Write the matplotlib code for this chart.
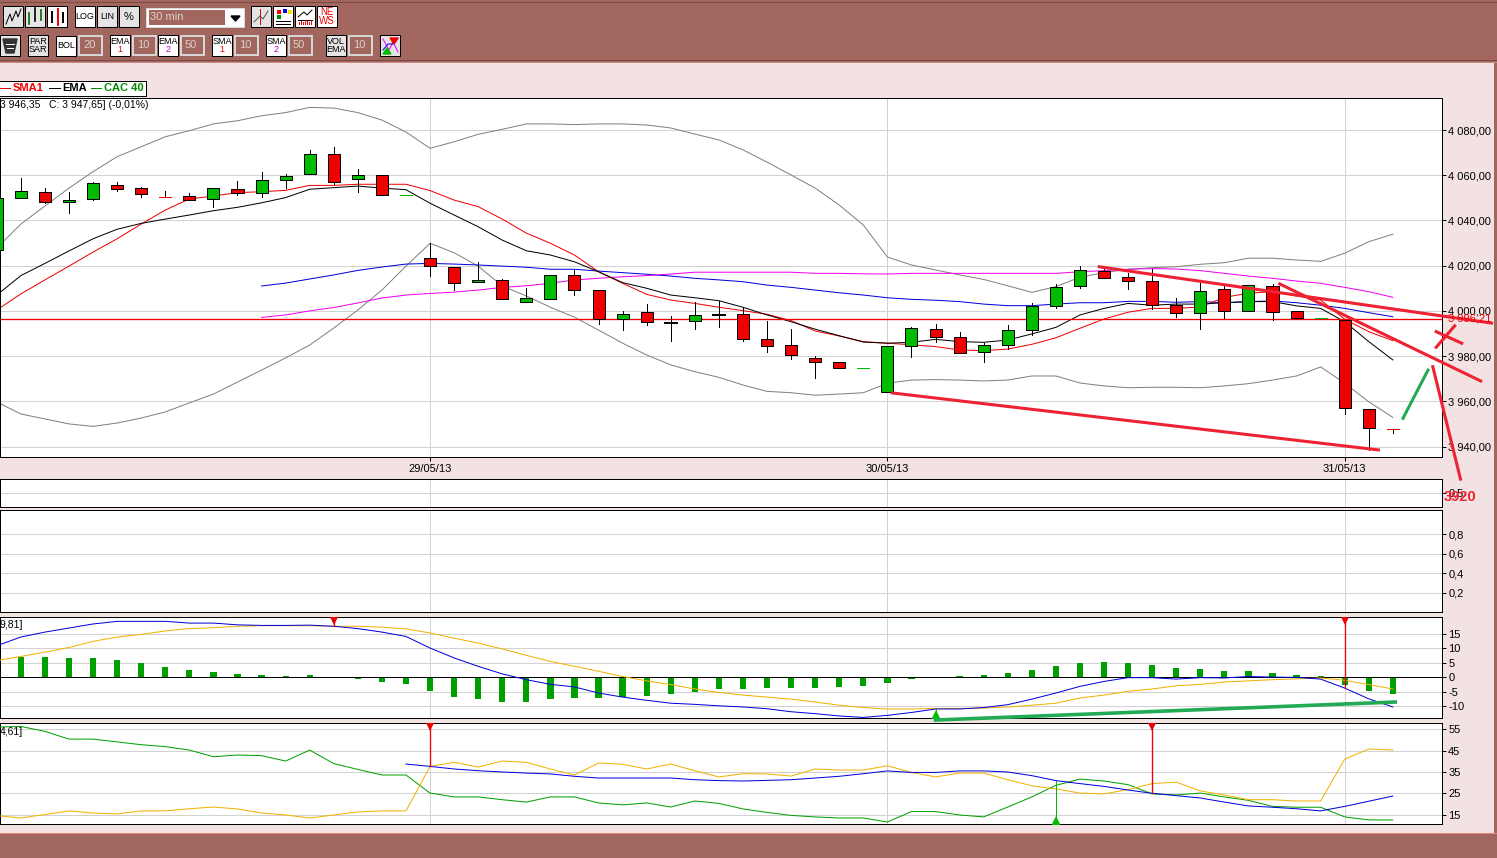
import numpy as np
import matplotlib
matplotlib.use("Agg")
import matplotlib.pyplot as plt
from matplotlib.patches import Rectangle

plt.rcParams["font.family"] = ["Liberation Sans", "DejaVu Sans"]

W, H = 1497, 858

# candles, 30 min, index 0 is cut by the left edge
body_top = [4050, 4053.2, 4052.7, 4048.9, 4056.4, 4055.5, 4054.2, 4050.5, 4050.7, 4054.2,
            4053.8, 4057.8, 4059.5, 4069.3, 4069.3, 4060, 4060, 4051.1, 4023.3, 4019.3,
            4013.7, 4013.5, 4005.6, 4015.7, 4015.7, 4009.1, 3998.5, 3999.4, 3994.6, 3998,
            3998.2, 3998.5, 3987.4, 3984.8, 3979, 3977.3, 3974.7, 3984.3, 3992.3, 3991.8,
            3988.3, 3984.8, 3991.4, 4002, 4010.4, 4018, 4017.5, 4014.9, 4013.1, 4002.5,
            4008.7, 4009.5, 4011.3, 4010.9, 3999.8, 3996.7, 3995.8, 3956.5, 3947.6]
body_bot = [4027, 4049.8, 4048, 4048, 4049.3, 4054, 4051.6, 4050.5, 4049.2, 4049.3,
            4052, 4052, 4057.8, 4060.4, 4057.1, 4058.2, 4051.1, 4051.1, 4019.7, 4012.2,
            4012.6, 4005.4, 4004.1, 4005.4, 4009.4, 3996.3, 3996.3, 3995, 3994.6, 3995.4,
            3998.2, 3987.4, 3984.6, 3980.4, 3977.5, 3974.6, 3974.7, 3964, 3984.3, 3988.3,
            3981.2, 3981.7, 3984.8, 3991.4, 4002, 4010.9, 4014.4, 4013.1, 4002.5, 3998.9,
            3998.9, 3999.8, 3999.8, 3999.4, 3996.7, 3996.7, 3956.9, 3948, 3947.6]
highs = [4050, 4058.8, 4054.3, 4052.4, 4056.9, 4056.9, 4054.8, 4052.9, 4052.1, 4054.2,
         4057.3, 4061.3, 4060.5, 4071.2, 4072.5, 4062.6, 4060, 4051.1, 4029.9, 4019.3,
         4021.5, 4014, 4010.3, 4015.7, 4018.1, 4009.1, 3999.9, 4003, 3997.7, 4003.8,
         4004.2, 4001.6, 3995.5, 3992, 3979.9, 3977.3, 3974.7, 3984.3, 3992.7, 3994.2,
         3990.5, 3985.9, 3993.6, 4003.3, 4011.9, 4019.7, 4018.4, 4016.6, 4018.4, 4005.6,
         4012.2, 4011, 4011.3, 4011.8, 3999.8, 3996.7, 3995.8, 3956.5, 3947.6]
lows = [4027, 4049.8, 4047.7, 4043.2, 4048.9, 4053.2, 4050.5, 4050.2, 4048.9, 4046.1,
        4051.4, 4050.5, 4054.2, 4060.4, 4056, 4052.7, 4051.1, 4051.1, 4015.6, 4009.4,
        4012.6, 4005.4, 4004.1, 4005.4, 4007, 3994.3, 3991.7, 3993.9, 3986.8, 3992.1,
        3993, 3986.8, 3981.9, 3978.9, 3970.4, 3974.6, 3974.7, 3964, 3979.7, 3986.4,
        3981.2, 3977.5, 3983, 3989.5, 4001.4, 4010.1, 4014.4, 4009.5, 4000.7, 3997.4,
        3991.9, 3996.8, 3999.8, 3996, 3996.7, 3996.7, 3954.4, 3938.5, 3946.1]
candle_colors = "ggrggrrrrgrgggrgrgrrgrggrrgrkgkrrrrrgggrrgggggrrrrgrgrrgrrr"

bb_up = [4027.8, 4038.4, 4046.4, 4054.3, 4061.6, 4068.2, 4072.6, 4077, 4079.7, 4082.7,
         4084.1, 4086.3, 4087.7, 4090, 4089.7, 4087.7, 4084.4, 4079.1, 4071.9, 4074.8,
         4078.1, 4080.3, 4082.7, 4082.7, 4082.4, 4082.7, 4082.7, 4082.2, 4080.9, 4078.2,
         4075.6, 4071.2, 4065.8, 4060.1, 4054.3, 4046.8, 4038, 4023.8, 4020.3, 4018.1,
         4015.9, 4013.9, 4011.1, 4008.2, 4010.7, 4014.9, 4016.9, 4018.4, 4019.1, 4019.5,
         4020.6, 4021.3, 4023.3, 4023.3, 4022.5, 4021.9, 4025.5, 4030.6, 4033.9]
bb_low = [3959.7, 3954.4, 3952.2, 3950, 3948.9, 3950.4, 3952.6, 3955.3, 3959.3, 3963.2,
          3968.5, 3973.8, 3979.2, 3984.9, 3992.4, 4000.4, 4009.2, 4019.8, 4029.9, 4025.7,
          4019.8, 4011, 4006.6, 4001.6, 3997.2, 3991.5, 3985.7, 3980.5, 3976.1, 3973.1,
          3970.6, 3967.2, 3964.4, 3963.8, 3962.7, 3963.2, 3963.8, 3968, 3969.4, 3969.6,
          3969.4, 3969, 3969.4, 3971.2, 3971.2, 3968.1, 3966.8, 3966, 3966.2, 3966.2,
          3966, 3966.8, 3967.8, 3969.4, 3971.2, 3975.2, 3968, 3959.8, 3952.9]
sma1 = [4000.4, 4007.5, 4013.7, 4019.8, 4026, 4031.9, 4038.4, 4044.6, 4049.5, 4050.8,
        4052.3, 4052.7, 4053.3, 4055.5, 4055.5, 4056, 4056, 4056, 4053.2, 4049,
        4046.1, 4040.6, 4034.4, 4029.9, 4024.7, 4017.3, 4012.2, 4007.3, 4004.8, 4003.3,
        4001.6, 4000.1, 3998.5, 3995.7, 3991.1, 3988.9, 3986.4, 3985.7, 3985, 3984.2,
        3982.7, 3982.4, 3983.1, 3985.2, 3988.1, 3992.3, 3996.4, 3999.4, 4001.1, 4001.1,
        4001.7, 4006, 4007.8, 4008.5, 4006.6, 4004.8, 3996.3, 3990.8, 3986.8]
ema1 = [4007, 4015.6, 4021, 4026.5, 4031.9, 4036.1, 4038.7, 4040.6, 4042.4, 4044.3,
        4045.8, 4047.8, 4050.1, 4053.8, 4054.5, 4055.2, 4054.3, 4053.6, 4047.6, 4042.4,
        4037.2, 4031.3, 4026.6, 4024.7, 4021.7, 4017.3, 4012.5, 4010, 4007, 4005.8,
        4004.5, 4001.6, 3998.2, 3995.2, 3991.9, 3989, 3986.2, 3985.7, 3986.1, 3987.4,
        3986.4, 3986.1, 3987.1, 3989.8, 3992.7, 3998.2, 4001.1, 4003.3, 4002.5, 4003,
        4003, 4003.6, 4004.1, 4004.1, 4002.2, 4001.1, 3995.2, 3986.4, 3978.3]
# these two start at candle 11
ema2 = [4011, 4012.3, 4014.1, 4015.9, 4017.9, 4019.4, 4020.7, 4021, 4020.7, 4020.3,
        4019.8, 4019.3, 4018.4, 4018.4, 4017.6, 4016.9, 4016.2, 4015.4, 4014.4, 4013.7,
        4012.9, 4011.4, 4010.4, 4009.2, 4008, 4007, 4005.8, 4005.1, 4004.7, 4004.1,
        4003, 4002.3, 4002.3, 4003, 4003.6, 4003.6, 4004.2, 4004.2, 4003.8, 4004.1,
        4003.6, 4004.1, 4004.4, 4003.6, 4002.5, 4001.1, 3999.2, 3997.4]
sma2 = [3997.1, 3998.2, 4000, 4001.5, 4003.5, 4005.7, 4007, 4007.7, 4008.3, 4009.2,
        4010.4, 4011.1, 4012.2, 4013.7, 4014.4, 4015.1, 4015.6, 4016.3, 4017.1, 4017.1,
        4017.1, 4017.1, 4017.1, 4016.6, 4016.6, 4016.4, 4016.3, 4016.6, 4016.6, 4016.6,
        4016.6, 4016.6, 4016.6, 4016.6, 4017.3, 4017.8, 4018.4, 4018.7, 4018.5, 4017.8,
        4016.6, 4015.4, 4014.4, 4013.2, 4012.2, 4010.4, 4008.5, 4006]
last_close_level = 3996.5

macd_hist = [5.2, 7, 7, 6.7, 6.7, 6, 4.9, 3.6, 2.5, 1.8, 1.1, 0.8, 0.5, 0.8, 0, -0.6, -1.6, -2.3,
             -4.7, -6.8, -7.5, -8.5, -8.5, -7.5, -7.1, -7.1, -6.8, -6.4, -5.7, -5.1, -4, -4,
             -3.7, -3.7, -3.7, -3.3, -3, -2, -0.6, 0, 0.5, 0.8, 1.5, 2.5, 3.9, 4.9, 5.3, 4.9,
             4.3, 3.2, 2.9, 2.2, 2.2, 1.5, 0.8, 0.5, -2.6, -4.7, -5.7]
macd_line = [10.8, 13.8, 15.5, 16.9, 18.3, 19.2, 19.2, 19.2, 18.6, 18.6, 18, 17.8, 17.8, 17.9,
             17.5, 16.7, 15.5, 14, 10, 6.6, 3.7, 1.1, -0.9, -2.5, -3.4, -5.5, -6.9, -8, -9,
             -9.4, -9.9, -10.3, -10.9, -11.95, -12.6, -13.4, -13.9, -13.2, -12.2, -11, -11,
             -10.5, -9.5, -7.6, -5.5, -3.2, -1.5, -0.2, -0.2, -0.7, -0.2, -0.3, 0.2, 0,
             -0.1, -0.7, -3.8, -7.5, -10.3]
macd_signal = [5.7, 7.1, 8.6, 10.2, 12.3, 13.8, 14.7, 15.9, 16.7, 17, 17.5, 17.7, 17.7, 17.7,
               17.5, 17.5, 17.2, 16.6, 15.2, 13.4, 11.7, 9.7, 7.5, 5.4, 3.7, 2, 0.2, -1.3,
               -2.6, -4.1, -5.3, -6.2, -6.9, -7.6, -8.6, -9.7, -10.5, -11, -11, -10.8, -10.8,
               -10.7, -10.3, -9.7, -9, -7.2, -6.2, -4.9, -4.1, -3, -2.5, -1.7, -1.3, -0.9,
               -0.6, -0.3, -1.1, -2.6, -4.1]

dmi_green = [55.9, 56.2, 53.9, 50.3, 50.3, 49, 47.7, 46.8, 45.2, 42.1, 42.9, 42.6, 40.1, 45.2,
             38.9, 36.2, 33.6, 33.6, 25.2, 23.4, 23.4, 22.1, 21, 23.4, 23.4, 20.6, 19.7, 20.6,
             18.7, 21.5, 20.4, 17.8, 16.2, 14.8, 14.1, 13.6, 13.6, 11.7, 16.6, 16.6, 15, 14.1,
             18.7, 23.4, 28.8, 31.7, 30.8, 29.1, 24.8, 24.3, 25.2, 23.4, 21.8, 19, 18.6, 18.6,
             14.1, 12.7, 12.7]
dmi_orange = [14.7, 13.6, 15.2, 16.9, 15.9, 15.5, 16.9, 16.9, 17.9, 18.7, 17.8, 15.9, 15, 13.6,
              15, 16.4, 16.9, 16.9, 37.6, 39.5, 37.3, 40.1, 39.5, 36.4, 33.6, 39.2, 38.6, 36.4,
              38.7, 35.6, 32.7, 34.2, 34.1, 33.1, 36.4, 35.9, 35.9, 37.9, 34.8, 32.7, 34.5,
              34.5, 31.4, 28.6, 27.1, 25.2, 24.8, 26.8, 29.6, 30.3, 26.2, 24.3, 22.1, 22.1,
              21.5, 21.5, 41, 45.7, 45.2]
# starts at candle 17
dmi_blue = [38.7, 37.6, 36.4, 35.6, 35, 34.5, 34.1, 33, 32.2, 32.2, 32.2, 32.2, 31.4, 31, 30.8,
            31.1, 31.4, 32.2, 33, 34.2, 35.5, 34.8, 34.8, 35.5, 35.5, 35, 33.3, 31, 29.6, 28.3,
            26.6, 25.1, 24, 22.9, 21, 19.2, 18.6, 17.9, 16.9, 19, 21.4, 23.8]

price_ticks = [4080, 4060, 4040, 4020, 4000, 3980, 3960, 3940]
date_idx = [18, 37, 56]
date_labels = ["29/05/13", "30/05/13", "31/05/13"]
macd_ticks = [15, 10, 5, 0, -5, -10]
dmi_ticks = [15, 25, 35, 45, 55]
osc_ticks = [0.2, 0.4, 0.6, 0.8]

# hand drawn lines on top of the chart: (candle index, price)
red_lines = [
    ([37.2, 57.4], [3963.7, 3938.5]),
    ([45.8, 62.1], [4019.5, 3994.6]),
    ([53.3, 61.65], [4011.9, 3969]),
    ([59.66, 60.81], [3975.3, 3925.6]),
    ([59.8, 60.86], [3990.8, 3985.7]),
    ([59.8, 60.57], [3983.9, 3993.4]),
]
green_line = ([58.42, 59.46], [3952.5, 3973.8])
macd_green_line = ([39, 58.1], [-14.8, -8.6])

BROWN = "#A1665E"
PINK = "#F2E2E2"
GRID = "#D2D2D2"
RED = "#F00000"
GREEN = "#00BB00"
BAR_GREEN = "#009F00"
ORANGE = "#F2B100"
BLUE = "#0000DD"
MAGENTA = "#F000F0"
GRAY = "#808080"
MARK_RED = "#EE2233"
MARK_GREEN = "#22AA55"

X0, STEP = -3.2, 24.07  # pixel of candle 0, pixels per candle
PLOT_R = 1442
THIN = 0.72  # one pixel at dpi 100
RED_LW = 0.95


def panel(y0, y1, ymin, ymax, yticks, labels, z=2):
    ax = fig.add_axes([0, 1 - y1 / H, PLOT_R / W, (y1 - y0) / H], zorder=z)
    ax.set_xlim((0 - X0) / STEP, (PLOT_R - X0) / STEP)
    ax.set_ylim(ymin, ymax)
    ax.yaxis.tick_right()
    ax.set_yticks(yticks)
    ax.set_yticklabels(labels)
    ax.set_xticks(date_idx)
    ax.set_xticklabels([])
    ax.tick_params(axis="y", length=3, width=THIN, labelsize=8, pad=1.5)
    ax.tick_params(axis="x", length=0)
    ax.grid(True, color=GRID, lw=THIN, zorder=0)
    ax.set_axisbelow(True)
    for s in ax.spines.values():
        s.set_linewidth(THIN)
        s.set_color("black")
    return ax


def rect(x0, y0, x1, y1, fc, ec="none", lw=0.0, z=1):
    bg.add_patch(Rectangle((x0, y0), x1 - x0, y1 - y0, facecolor=fc, edgecolor=ec, linewidth=lw, zorder=z))


def button(x0, y0, w, h, fc="white", lines=None, colors=None, size=6.5):
    rect(x0, y0, x0 + w, y0 + h, fc, "black", THIN)
    if lines:
        n = len(lines)
        for k, t in enumerate(lines):
            c = colors[k] if colors else "black"
            yy = y0 + h / 2 + (k - (n - 1) / 2) * 9
            bg.text(x0 + w / 2, yy, t, ha="center", va="center", fontsize=size, color=c, zorder=3)


def field(x0, y0, w, h, label):
    rect(x0, y0, x0 + w, y0 + h, BROWN, "#D8D8D8", 1.4)
    bg.text(x0 + 4, y0 + h / 2, label, ha="left", va="center", fontsize=8, color="#DDD0C8", zorder=3)


fig = plt.figure(figsize=(W / 100, H / 100), dpi=100, facecolor=PINK)

# window chrome in pixels
bg = fig.add_axes([0, 0, 1, 1], zorder=0)
bg.set_xlim(0, W)
bg.set_ylim(H, 0)
bg.axis("off")
rect(0, 0, W, 62, BROWN)
rect(0, 834, W, H, BROWN)
rect(1494, 0, W, H, BROWN)
bg.plot([0, W], [1.5, 1.5], color="#7A4A44", lw=THIN)
bg.plot([0, W], [59.5, 59.5], color="#7A4A44", lw=THIN)
bg.plot([0, W], [61.5, 61.5], color="#C98880", lw=THIN)
bg.plot([0, W], [832.5, 832.5], color="#E88880", lw=THIN)

# first toolbar row
button(3, 6, 20, 21, "#E4E4E4")
bg.plot([6, 10, 12, 16, 18, 21], [24, 14, 21, 11, 17, 9], color="black", lw=THIN, zorder=3)
button(25, 6, 20, 21, "#E4E4E4")
for xb, yt, yb in [(29, 13, 24), (35, 8, 21), (41, 10, 20)]:
    bg.plot([xb, xb], [yt, yb], color="#006600" if xb != 35 else "#000000", lw=1.2, zorder=3)
button(47, 6, 20, 21, "white")
for xb, yt, yb, c in [(52, 12, 22, "black"), (58, 9, 25, RED), (63, 13, 22, "black")]:
    bg.plot([xb, xb], [yt, yb], color=c, lw=1.4, zorder=3)
button(75, 6, 20, 21, "white", ["LOG"])
button(97, 6, 20, 21, "#E4E4E4", ["LIN"])
button(119, 6, 20, 21, "#E4E4E4", ["%"], size=8)
rect(146, 8, 244, 27, "white", "#D8D8D8", THIN)
rect(149, 10, 225, 25, BROWN)
bg.text(150, 17.5, "30 min", ha="left", va="center", fontsize=8, color="#DDD0C8", zorder=3)
bg.fill([231, 240, 235.5], [16, 16, 21], color="black", zorder=3)
button(251, 6, 20, 21, "#E4E4E4")
bg.plot([259.5, 259.5], [9, 24], color=RED, lw=THIN, zorder=3)
bg.plot([254, 260, 263, 268], [22, 16, 19, 11], color="#555555", lw=THIN, zorder=3)
button(273, 6, 20, 21, "white")
for xb, yb, c in [(277, 10, RED), (283, 9, BLUE), (288, 10, "#E8E800"), (277, 15, "#008800")]:
    rect(xb, yb, xb + 4, yb + 4, c, z=3)
bg.plot([276, 290], [21, 21], color="black", lw=THIN, zorder=3)
bg.plot([276, 290], [24, 24], color="black", lw=THIN, zorder=3)
button(295, 6, 20, 21, "white")
bg.plot([298, 304, 307, 312], [17, 12, 15, 10], color="black", lw=THIN, zorder=3)
bg.plot([298, 312], [19.5, 19.5], color="black", lw=THIN, zorder=3)
for xb, hb in zip(range(299, 313, 2), [2, 3, 2, 4, 3, 2, 4]):
    bg.plot([xb, xb], [24 - hb, 24], color=RED, lw=THIN, zorder=3)
button(317, 6, 20, 21, "white", ["NE", "WS"], [RED, RED], size=7)

# second row
button(0, 35, 20, 21, "#E4E4E4")
bg.fill([3, 17, 14, 6], [39, 39, 53, 53], color="#333333", zorder=3)
bg.plot([6, 14], [44, 44], color="white", lw=THIN, zorder=4)
bg.plot([7, 13], [48, 48], color="white", lw=THIN, zorder=4)
button(28, 35, 20, 21, "#E4E4E4", ["PAR", "SAR"])
button(56, 36, 20, 20, "white", ["BOL"])
field(79, 36, 23, 19, "20")
button(110, 35, 20, 21, "white", ["EMA", "1"], ["black", RED])
field(133, 36, 23, 19, "10")
button(158, 35, 20, 21, "white", ["EMA", "2"], ["black", "#BB00BB"])
field(181, 36, 23, 19, "50")
button(212, 35, 20, 21, "white", ["SMA", "1"], ["black", RED])
field(235, 36, 23, 19, "10")
button(266, 35, 20, 21, "white", ["SMA", "2"], ["black", "#BB00BB"])
field(289, 36, 23, 19, "50")
button(326, 35, 20, 21, "#E4E4E4", ["VOL", "EMA"])
field(349, 36, 23, 19, "10")
button(380, 35, 20, 21, "#E4E4E4")
bg.plot([383, 389, 393, 398], [39, 50, 42, 52], color=MAGENTA, lw=THIN, zorder=3)
bg.plot([383, 388, 393, 398], [50, 44, 44, 38], color=BLUE, lw=THIN, zorder=3)
bg.fill([390, 398, 394], [38, 38, 44], color=RED, zorder=4)
bg.fill([383, 391, 387], [54, 54, 48], color="#00BB00", zorder=4)

# legend strip above the price panel
rect(-2, 80.5, 145.5, 95.5, "white", "black", THIN)
for x0, x1, c, lab, xt in [(0, 10, RED, "SMA1", 13), (49, 60, "black", "EMA", 62), (91, 101, "#008800", "CAC 40", 104)]:
    bg.plot([x0, x1], [87.5, 87.5], color=c, lw=THIN, zorder=3)
    bg.text(xt, 88, lab, ha="left", va="center", fontsize=8, fontweight="bold", color=c, zorder=3)

# price panel
ymax_p = 4080 + (130 - 98) * 0.4423
ymin_p = 4080 - (457 - 130) * 0.4423
price_labels = [f"{v // 1000} {v % 1000:03d},00" for v in price_ticks]
ax = panel(98, 457, ymin_p, ymax_p, price_ticks, price_labels, z=6)
ax.set_xticklabels(date_labels, fontsize=8)
ax.tick_params(axis="x", length=3, width=THIN, pad=2)

n = len(body_top)
xs = np.arange(n)
ax.plot(xs, bb_up, color=GRAY, lw=THIN, zorder=2)
ax.plot(xs, bb_low, color=GRAY, lw=THIN, zorder=2)
ax.plot(xs[11:], ema2, color=BLUE, lw=THIN, zorder=2)
ax.plot(xs[11:], sma2, color=MAGENTA, lw=THIN, zorder=2)
ax.plot(xs, sma1, color=RED, lw=THIN, zorder=2.2)
ax.plot(xs, ema1, color="black", lw=THIN, zorder=2.2)
ax.axhline(last_close_level, color=RED, lw=RED_LW, zorder=2.3)

body_w = 0.5
fill = {"g": GREEN, "r": RED, "k": "black"}
for i in range(n):
    c = candle_colors[i]
    ax.plot([i, i], [lows[i], highs[i]], color="black", lw=THIN, zorder=3)
    if abs(body_top[i] - body_bot[i]) < 0.01:
        lw = 1.4 if c == "k" else THIN
        ax.plot([i - body_w / 2, i + body_w / 2], [body_top[i], body_top[i]], color=fill[c], lw=lw, zorder=4)
    else:
        ax.add_patch(Rectangle((i - body_w / 2, body_bot[i]), body_w, body_top[i] - body_bot[i],
                               facecolor=fill[c], edgecolor="black", linewidth=THIN, zorder=4))

for lx, ly in red_lines:
    ax.plot(lx, ly, color=MARK_RED, lw=2.2, clip_on=False, zorder=8)
ax.plot(green_line[0], green_line[1], color=MARK_GREEN, lw=2.2, clip_on=False, zorder=8)

# two empty panels
ax_vol = panel(479, 507, 0, 1, [0.5], ["0,5"])
ax_osc = panel(510, 612, 0.0, 1.05, osc_ticks, [str(v).replace(".", ",") for v in osc_ticks])

# MACD
ax_macd = panel(617, 718, -14.1, 20.7, macd_ticks, [str(v) for v in macd_ticks], z=3)
ax_macd.bar(xs, macd_hist, width=0.26, color=BAR_GREEN, zorder=2)
ax_macd.axhline(0, color="black", lw=THIN, zorder=2.5)
ax_macd.plot(xs, macd_signal, color=ORANGE, lw=THIN, zorder=3)
ax_macd.plot(xs, macd_line, color=BLUE, lw=THIN, zorder=3.2)
for i in (14, 56):
    ax_macd.plot([i, i], [20.7, macd_line[i]], color=RED, lw=RED_LW, zorder=4)
    ax_macd.plot(i, 19.6, marker="v", ms=6.5, color=RED, mew=0, zorder=5)
ax_macd.plot([39, 39], [-14.1, macd_line[39]], color=GREEN, lw=THIN, zorder=4)
ax_macd.plot(39, -12.9, marker="^", ms=7, color=GREEN, mew=0, zorder=5)
ax_macd.plot(macd_green_line[0], macd_green_line[1], color=MARK_GREEN, lw=2.6, clip_on=False, zorder=8)

# DMI
ax_dmi = panel(723, 824, 10.8, 57.8, dmi_ticks, [str(v) for v in dmi_ticks])
ax_dmi.plot(xs, dmi_green, color=BAR_GREEN, lw=THIN, zorder=3)
ax_dmi.plot(xs, dmi_orange, color=ORANGE, lw=THIN, zorder=3)
ax_dmi.plot(xs[17:], dmi_blue, color=BLUE, lw=THIN, zorder=3.2)
for i, v in [(18, 37.6), (48, 25)]:
    ax_dmi.plot([i, i], [57.8, v], color=RED, lw=RED_LW, zorder=4)
    ax_dmi.plot(i, 56.6, marker="v", ms=6.5, color=RED, mew=0, zorder=5)
ax_dmi.plot([44, 44], [10.8, 31], color=GREEN, lw=THIN, zorder=4)
ax_dmi.plot(44, 12, marker="^", ms=7, color=GREEN, mew=0, zorder=5)

# text sitting on top of everything
top = fig.add_axes([0, 0, 1, 1], zorder=10)
top.set_xlim(0, W)
top.set_ylim(H, 0)
top.axis("off")
top.patch.set_alpha(0)
top.text(0, 105.5, "3 946,35   C: 3 947,65] (-0,01%)", ha="left", va="center", fontsize=7.5)
top.text(0, 625.5, "9,81]", ha="left", va="center", fontsize=7.5)
top.text(0, 732, "4,61]", ha="left", va="center", fontsize=7.5)
top.text(1448, 318.5, "3 996,21", ha="left", va="center", fontsize=8, color=RED)
top.text(1444, 497, "3920", ha="left", va="center", fontsize=10.5, fontweight="bold", color=MARK_RED)

fig.savefig("out.png", dpi=100, facecolor=PINK)
